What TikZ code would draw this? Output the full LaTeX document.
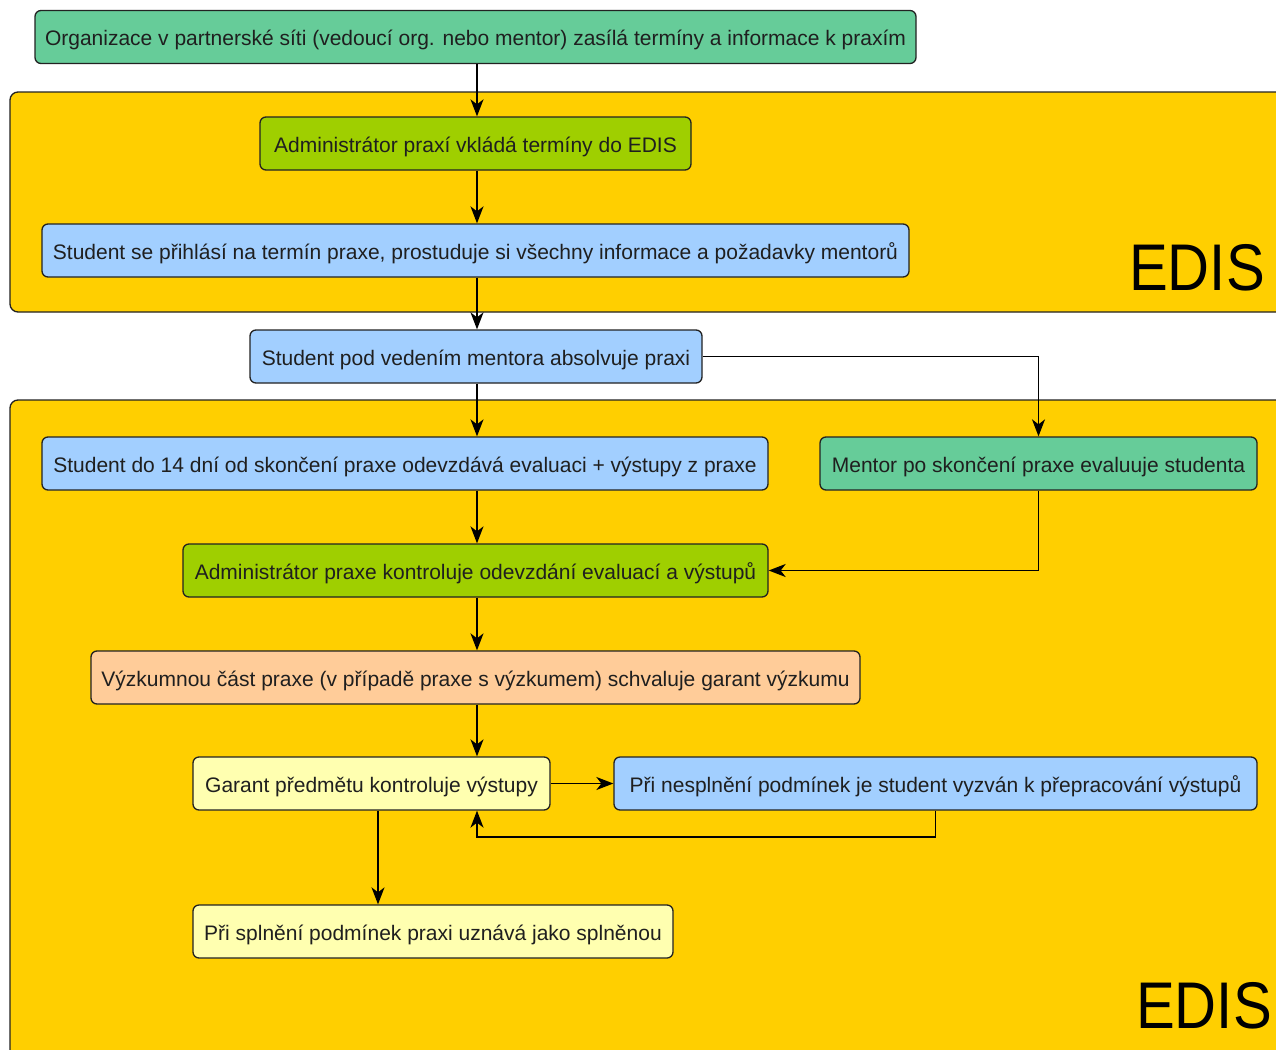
\documentclass[tikz,border=0pt]{standalone}
\usepackage{fontspec}
\setmainfont{Liberation Sans}
\newfontfamily\edisfont{Liberation Sans}[FakeStretch=0.88]
\usetikzlibrary{arrows.meta}
\definecolor{cGreen}{HTML}{66CC99}
\definecolor{cLime}{HTML}{9FCF00}
\definecolor{cBlue}{HTML}{A2CFFF}
\definecolor{cPeach}{HTML}{FFCC99}
\definecolor{cPale}{HTML}{FFFFB0}
\definecolor{cGold}{HTML}{FFCF00}
\definecolor{cLine}{HTML}{222222}
\tikzset{
  flowbox/.style={draw=cLine, rounded corners=6pt, line width=1.3pt, minimum height=53pt,
    inner sep=0pt, anchor=center, text=black!88, font=\fontsize{21}{25}\selectfont,
    text height=21pt, text depth=3pt},
  container/.style={draw=cLine, fill=cGold, rounded corners=8pt, line width=1.3pt},
  arr/.style={draw=black, line width=1.6pt, -{Stealth[length=17pt,width=13pt,inset=5pt]}},
  edislabel/.style={anchor=base east, inner sep=0pt, font=\edisfont\fontsize{66}{66}\selectfont, text=black}
}
\begin{document}
\begin{tikzpicture}[x=1pt,y=-1pt]
\useasboundingbox (0,0) rectangle (1276,1049);
\clip (0,0) rectangle (1276,1049);
\fill[white] (0,0) rectangle (1276,1049);
\draw[container] (10,92) rectangle (1295,312);
\draw[container] (10,400) rectangle (1295,1070);
\node[edislabel] (edis1) at (1265,290) {EDIS};
\node[edislabel] (edis2) at (1272,1028) {EDIS};

\coordinate (spine) at (477,0);
\coordinate (gx) at (378,0);
\coordinate (fb) at (477,837);

\node[flowbox, fill=cGreen, minimum width=881pt] (top) at (475.5,37) {Organizace v partnerské síti (vedoucí org. nebo mentor) zasílá termíny a informace k praxím};
\node[flowbox, fill=cLime, minimum width=431pt] (adm1) at (475.5,143.5) {Administrátor praxí vkládá termíny do EDIS};
\node[flowbox, fill=cBlue, minimum width=867pt] (stud1) at (475.5,250.5) {Student se přihlásí na termín praxe, prostuduje si všechny informace a požadavky mentorů};
\node[flowbox, fill=cBlue, minimum width=452pt] (pod) at (476,356.5) {Student pod vedením mentora absolvuje praxi};
\node[flowbox, fill=cBlue, minimum width=726pt] (do14) at (405,463.5) {Student do 14 dní od skončení praxe odevzdává evaluaci + výstupy z praxe};
\node[flowbox, fill=cGreen, minimum width=437pt] (mentor) at (1038.5,463.5) {Mentor po skončení praxe evaluuje studenta};
\node[flowbox, fill=cLime, minimum width=585pt] (adm2) at (475.5,570.5) {Administrátor praxe kontroluje odevzdání evaluací a výstupů};
\node[flowbox, fill=cPeach, minimum width=769pt] (vyz) at (475.5,677.5) {Výzkumnou část praxe (v případě praxe s výzkumem) schvaluje garant výzkumu};
\node[flowbox, fill=cPale, minimum width=357pt] (garant) at (371.5,783.5) {Garant předmětu kontroluje výstupy};
\node[flowbox, fill=cBlue, minimum width=643pt] (nespl) at (935.5,783.5) {Při nesplnění podmínek je student vyzván k přepracování výstupů};
\node[flowbox, fill=cPale, minimum width=480pt] (spl) at (433,931.5) {Při splnění podmínek praxi uznává jako splněnou};

\draw[arr] (top.south -| spine) -- (adm1.north -| spine);
\draw[arr] (adm1.south -| spine) -- (stud1.north -| spine);
\draw[arr] (stud1.south -| spine) -- (pod.north -| spine);
\draw[arr] (pod.south -| spine) -- (do14.north -| spine);
\draw[arr] (do14.south -| spine) -- (adm2.north -| spine);
\draw[arr] (adm2.south -| spine) -- (vyz.north -| spine);
\draw[arr] (vyz.south -| spine) -- (garant.north -| spine);
\draw[arr] (pod.east) -| (mentor.north);
\draw[arr] (mentor.south) |- (adm2.east);
\draw[arr] (garant.east) -- (nespl.west);
\draw[arr] (nespl.south) |- (fb) -- (garant.south -| fb);
\draw[arr] (garant.south -| gx) -- (spl.north -| gx);
\end{tikzpicture}
\end{document}
